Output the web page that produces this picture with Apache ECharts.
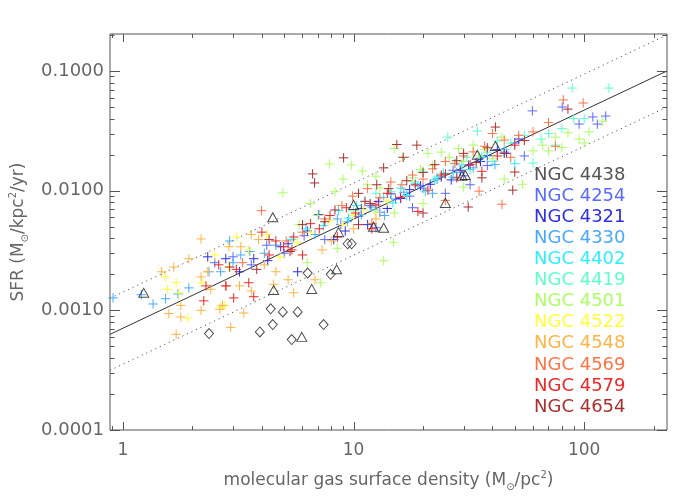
<!DOCTYPE html>
<html>
<head>
<meta charset="utf-8">
<script src="https://cdn.jsdelivr.net/npm/echarts@6/dist/echarts.min.js"></script>
<style>html,body{margin:0;padding:0;background:#fff}#c{width:700px;height:500px}</style>
</head>
<body>
<div id="c"></div>
<script>
// ---------- data ----------
const ngc4438 = [[1.23,0.0014],[4.46,0.006],[4.5,0.00148],[6.58,0.00151],[5.96,0.0006],[8.61,0.0045],[10,0.0076],[12.2,0.005],[13.5,0.0049],[8.44,0.0022],[34.4,0.0199],[41.2,0.0236],[30.5,0.0135],[29.5,0.0133],[25,0.0079]];
const diamonds = [[4.37,0.00103],[4.93,0.00097],[5.72,0.00097],[4.46,0.00076],[3.92,0.00066],[2.36,0.00064],[5.39,0.00057],[7.41,0.00076],[6.32,0.00205],[7.95,0.002],[9.42,0.0036],[9.8,0.0036]];
const ngc4254 = [[2.5,0.0025],[3.0,0.0028],[3.6,0.0024],[4.2,0.0035],[5.0,0.0030],[6.1,0.0042],[7.5,0.0039],[8.8,0.0052],[10.5,0.0061],[11.8,0.0075],[12.5,0.0049],[13,0.0066],[15.2,0.0085],[17.5,0.009],[18,0.0072],[20,0.0105],[23,0.0125],[25,0.0095],[27,0.0148],[30,0.0133],[32,0.0112],[35,0.0185],[38,0.0162],[45,0.021],[50,0.025],[55,0.0195],[59.6,0.0464],[80.3,0.05],[95,0.036],[109,0.0413],[114,0.036],[124,0.042]];
const ngc4321 = [[2.33,0.0028],[2.79,0.0027],[3.2,0.0021],[3.69,0.0027],[4.24,0.0026],[4.83,0.0034],[5.2,0.0036],[5.72,0.0021],[6.3,0.0046],[7.06,0.0063],[8.2,0.0039],[9.2,0.0046],[10.8,0.0071],[11.5,0.0052],[12.8,0.0081],[14,0.0071],[14.5,0.0094],[16,0.0086],[17.5,0.0102],[19.5,0.011],[21.5,0.0113],[24,0.013],[26.5,0.0123],[29,0.0148],[31.5,0.0163],[35.5,0.0175],[38,0.0196],[42,0.022],[46,0.0205],[52,0.027]];
const ngc4330 = [[0.905,0.00127],[1.2,0.00135],[1.35,0.00113],[1.53,0.00125],[1.73,0.00137],[1.93,0.00154],[2.36,0.0021],[2.65,0.0021],[2.9,0.0038],[3.0,0.0025],[3.24,0.0029],[3.55,0.0031],[4.1,0.003],[4.6,0.0035],[6.8,0.0043],[8.5,0.0058],[9.4,0.0055],[10.8,0.0063],[12,0.0073],[13.6,0.0062],[16.5,0.0097],[19,0.011],[22,0.0095],[28,0.0142],[33,0.0155],[41,0.0165]];
const ngc4402 = [[5.4,0.0039],[6.2,0.0048],[7.4,0.0051],[8.6,0.0068],[9.5,0.0059],[10.3,0.0075],[11.2,0.0082],[12.4,0.0069],[13.5,0.0088],[14.8,0.0079],[16,0.0105],[17,0.0091],[18.5,0.0115],[20.5,0.0098],[22.5,0.0123],[24.5,0.014],[27,0.013],[29.5,0.0164],[32,0.015],[36,0.019],[40,0.0175],[45,0.022],[50,0.0168]];
const ngc4419 = [[10,0.0068],[12.5,0.0095],[14.5,0.0098],[18,0.012],[20,0.0145],[23,0.013],[25.6,0.028],[27.5,0.017],[31,0.019],[34.4,0.0315],[38,0.021],[42,0.026],[48,0.025],[55,0.029],[60,0.017],[65,0.027],[70,0.03],[75,0.024],[80,0.033],[88.7,0.072],[90,0.04],[100,0.04],[128,0.072]];
const ngc4501 = [[4.93,0.0096],[5.8,0.0052],[6.3,0.0025],[6.5,0.0078],[7,0.0062],[7.2,0.0017],[7.87,0.0167],[8.3,0.0098],[8.5,0.0033],[9,0.0125],[9.8,0.0164],[10.9,0.0146],[11.5,0.0112],[12.5,0.0132],[13,0.0105],[13.5,0.0026],[14.9,0.0037],[15,0.0225],[15,0.0065],[16.4,0.019],[18,0.0128],[19.5,0.015],[20,0.0078],[21,0.0205],[22,0.0162],[24,0.021],[26,0.019],[28.5,0.0225],[30,0.0175],[30,0.0107],[33,0.024],[35,0.0195],[37,0.022],[40,0.0185],[44,0.028],[45,0.0125],[54,0.0113],[60,0.0215],[66,0.024],[70,0.0215],[75,0.028],[80,0.023],[85,0.0304],[95,0.027],[100,0.025],[105,0.031],[120,0.038]];
const ngc4522 = [[1.53,0.0019],[1.56,0.0015],[1.7,0.0017],[1.75,0.0014],[1.91,0.00086],[2.2,0.0017],[2.5,0.0029],[2.65,0.00107],[2.75,0.0011],[2.88,0.0023],[3.1,0.0041],[3.5,0.0032],[4.2,0.0043],[4.8,0.0028],[5.7,0.0037],[6.5,0.0045],[7.8,0.0056],[9,0.0052],[10,0.0062],[11,0.0069],[12.5,0.0066],[14,0.0082]];
const ngc4548 = [[1.47,0.0021],[1.58,0.00094],[1.66,0.0023],[1.7,0.00063],[1.78,0.0011],[1.78,0.00088],[1.93,0.0027],[2.18,0.00395],[2.18,0.0019],[2.18,0.001],[2.33,0.0021],[2.4,0.0015],[2.63,0.00102],[2.7,0.0011],[2.88,0.0034],[2.93,0.00072],[3.2,0.0016],[3.24,0.0034],[3.34,0.00095],[3.6,0.0043],[3.6,0.00145],[3.87,0.0039],[4.1,0.0024],[4.5,0.00165],[4.6,0.0021],[5.2,0.0018],[5.5,0.0014],[6.8,0.0018],[7.3,0.0032],[8,0.0038],[10,0.0048],[12.5,0.0058]];
const ngc4569 = [[2.8,0.0016],[3.3,0.0025],[3.99,0.0068],[5.1,0.0038],[6,0.0045],[7.5,0.0058],[8.9,0.0075],[9.9,0.009],[11.5,0.0104],[12,0.0053],[13,0.0087],[14.5,0.0118],[16.2,0.0112],[18,0.0135],[20,0.0125],[22,0.0152],[25,0.0175],[25,0.0083],[27.5,0.0168],[30,0.0195],[33,0.0211],[35,0.0099],[37,0.0235],[40,0.03],[44,0.0077],[45,0.0265],[48,0.019],[52,0.029],[60,0.031],[70,0.037],[75,0.0235],[81.2,0.0573],[99,0.054]];
const ngc4579 = [[2.24,0.0012],[2.29,0.0016],[2.6,0.0024],[2.79,0.0016],[3.02,0.00127],[3.1,0.0022],[3.51,0.0017],[3.69,0.0013],[4.0,0.0045],[4.3,0.0029],[4.6,0.0038],[4.97,0.0034],[5.4,0.0032],[5.5,0.0041],[6,0.0029],[6.5,0.0053],[7.1,0.0048],[7.9,0.0062],[8.5,0.0041],[9.3,0.0072],[10.2,0.0065],[11.2,0.0081],[12,0.0048],[12.5,0.0076],[14,0.0095],[16,0.0088],[18.5,0.0112],[19,0.0067],[21,0.0101],[24,0.0135],[28,0.0128],[32,0.0165],[36,0.0145],[42,0.0195],[50,0.024]];
const ngc4654 = [[2.9,0.0023],[3.8,0.0022],[4.3,0.0039],[5.3,0.0031],[6,0.0052],[6.64,0.0138],[6.77,0.0116],[7.5,0.0055],[8.3,0.0069],[9.05,0.0188],[10.5,0.0095],[10.5,0.0052],[11.8,0.0078],[12.6,0.0112],[13.5,0.0155],[14.2,0.0104],[15.4,0.0243],[16.4,0.019],[17,0.0121],[18.8,0.024],[20,0.0142],[20,0.0065],[22.5,0.0165],[25,0.0138],[28,0.0178],[30,0.0205],[31.4,0.0073],[34,0.0172],[36,0.0128],[38,0.0228],[41.2,0.034],[45,0.0205],[49,0.0101],[50,0.0143],[55,0.0262],[85,0.048]];

// fit line and factor-of-two envelope, read at the plot edges
const lineX  = [0.878, 228.6];
const fitY   = [0.00063, 0.1];
const upperY = [0.00126, 0.2];
const lowerY = [0.000315, 0.05];

const galaxyNames = ['NGC 4438','NGC 4254','NGC 4321','NGC 4330','NGC 4402','NGC 4419','NGC 4501','NGC 4522','NGC 4548','NGC 4569','NGC 4579','NGC 4654'];
const galaxyData  = [ngc4438, ngc4254, ngc4321, ngc4330, ngc4402, ngc4419, ngc4501, ngc4522, ngc4548, ngc4569, ngc4579, ngc4654];
const galaxyColors = ['#333333','#5a6bff','#2f2fe6','#48aaff','#2eefff','#5fffcc','#adff66','#ffff3a','#ffb446','#ff7446','#ec2828','#aa3030'];

// axis ticks
const xMajor = [1, 10, 100];
const xMinor = [0.9,2,3,4,5,6,7,8,9,20,30,40,50,60,70,80,90,200];
const yMajor = [0.0001, 0.001, 0.01, 0.1];
const yMinor = [0.0002,0.0003,0.0004,0.0005,0.0006,0.0007,0.0008,0.0009,0.002,0.003,0.004,0.005,0.006,0.007,0.008,0.009,0.02,0.03,0.04,0.05,0.06,0.07,0.08,0.09,0.2];
const xMin = 0.878, xMax = 228.6, yMin = 0.0001, yMax = 0.2037;

// ---------- chart ----------
const FONT = 'DejaVu Sans';
const TXT = '#666';
const chart = echarts.init(document.getElementById('c'), null, {renderer: 'canvas'});

function crossSeries(name, data, color) {
  return {
    type: 'custom', name: name, data: data, silent: true, z: 3,
    renderItem: function (params, api) {
      const p = api.coord([api.value(0), api.value(1)]);
      const s = 4.7;
      return {type: 'group', children: [
        {type: 'line', shape: {x1: p[0]-s, y1: p[1], x2: p[0]+s, y2: p[1]}, style: {stroke: color, lineWidth: 1}},
        {type: 'line', shape: {x1: p[0], y1: p[1]-s, x2: p[0], y2: p[1]+s}, style: {stroke: color, lineWidth: 1}}
      ]};
    }
  };
}
function tickSeries(vals, isX, len) {
  return {
    type: 'custom', silent: true, z: 5,
    data: vals.map(v => isX ? [v, yMin] : [xMin, v]),
    renderItem: function (params, api) {
      const cs = params.coordSys;
      const p = api.coord([api.value(0), api.value(1)]);
      const st = {stroke: '#555', lineWidth: 1};
      if (isX) {
        const x = Math.round(p[0]) + 0.5;
        return {type: 'group', children: [
          {type: 'line', shape: {x1: x, y1: cs.y + cs.height, x2: x, y2: cs.y + cs.height - len}, style: st},
          {type: 'line', shape: {x1: x, y1: cs.y, x2: x, y2: cs.y + len}, style: st}
        ]};
      } else {
        const y = Math.round(p[1]) + 0.5;
        return {type: 'group', children: [
          {type: 'line', shape: {x1: cs.x, y1: y, x2: cs.x + len, y2: y}, style: st},
          {type: 'line', shape: {x1: cs.x + cs.width, y1: y, x2: cs.x + cs.width - len, y2: y}, style: st}
        ]};
      }
    }
  };
}
function isPow10(v) { const l = Math.log10(v); return Math.abs(l - Math.round(l)) < 1e-6; }

const series = [];
series.push({type: 'line', data: lineX.map((x, i) => [x, fitY[i]]), showSymbol: false, silent: true, z: 2,
  lineStyle: {color: '#333', width: 1}});
series.push({type: 'line', data: lineX.map((x, i) => [x, upperY[i]]), showSymbol: false, silent: true, z: 2,
  lineStyle: {color: '#555', width: 1, type: [1.2, 3.8]}});
series.push({type: 'line', data: lineX.map((x, i) => [x, lowerY[i]]), showSymbol: false, silent: true, z: 2,
  lineStyle: {color: '#555', width: 1, type: [1.2, 3.8]}});
for (let i = 1; i < galaxyNames.length; i++) series.push(crossSeries(galaxyNames[i], galaxyData[i], galaxyColors[i]));
series.push({type: 'scatter', name: galaxyNames[0], data: ngc4438, symbol: 'triangle', symbolSize: [10, 9], z: 4, silent: true,
  itemStyle: {color: 'rgba(0,0,0,0)', borderColor: '#222', borderWidth: 1}});
series.push({type: 'scatter', name: 'limits', data: diamonds, symbol: 'diamond', symbolSize: [9, 10], z: 4, silent: true,
  itemStyle: {color: 'rgba(0,0,0,0)', borderColor: '#222', borderWidth: 1}});
series.push(tickSeries(xMajor, true, 8));
series.push(tickSeries(xMinor, true, 4));
series.push(tickSeries(yMajor, false, 10));
series.push(tickSeries(yMinor, false, 4.5));

const richTitle = {
  t: {fontFamily: FONT, fontSize: 17, color: TXT, lineHeight: 22, verticalAlign: 'middle'},
  s: {fontFamily: FONT, fontSize: 10, color: TXT, lineHeight: 10, verticalAlign: 'bottom'},
  p: {fontFamily: FONT, fontSize: 10, color: TXT, lineHeight: 10, verticalAlign: 'top'}
};

chart.setOption({
  animation: false,
  backgroundColor: '#fff',
  grid: {left: 109, top: 34, width: 558, height: 396, show: true, borderColor: '#555', borderWidth: 1, backgroundColor: 'transparent'},
  legend: {
    orient: 'vertical', left: 529, top: 166, padding: 0, itemWidth: 0, itemHeight: 14, itemGap: 3.1,
    icon: 'none', selectedMode: false,
    textStyle: {fontFamily: FONT, fontSize: 18},
    data: galaxyNames.map((n, i) => ({name: n, textStyle: {color: i === 0 ? '#555' : galaxyColors[i]}}))
  },
  xAxis: {
    type: 'log', logBase: 10, min: xMin, max: xMax,
    axisLine: {show: false}, axisTick: {show: false}, splitLine: {show: false},
    axisLabel: {fontFamily: FONT, fontSize: 17, color: TXT, margin: 12,
      formatter: v => isPow10(v) ? String(Math.round(v)) : ''},
    name: '{t|molecular gas surface density (M}{s|⊙}{t|/pc}{p|2}{t|)}',
    nameLocation: 'middle', nameGap: 40,
    nameTextStyle: {rich: richTitle}
  },
  yAxis: {
    type: 'log', logBase: 10, min: yMin, max: yMax,
    axisLine: {show: false}, axisTick: {show: false}, splitLine: {show: false},
    axisLabel: {fontFamily: FONT, fontSize: 18, color: TXT, margin: 6,
      formatter: v => isPow10(v) ? Math.pow(10, Math.round(Math.log10(v))).toFixed(4) : ''},
    name: '{t|SFR (M}{s|⊙}{t|/kpc}{p|2}{t|/yr)}',
    nameLocation: 'middle', nameGap: 80,
    nameTextStyle: {rich: richTitle}
  },
  series: series
});
</script>
</body>
</html>
